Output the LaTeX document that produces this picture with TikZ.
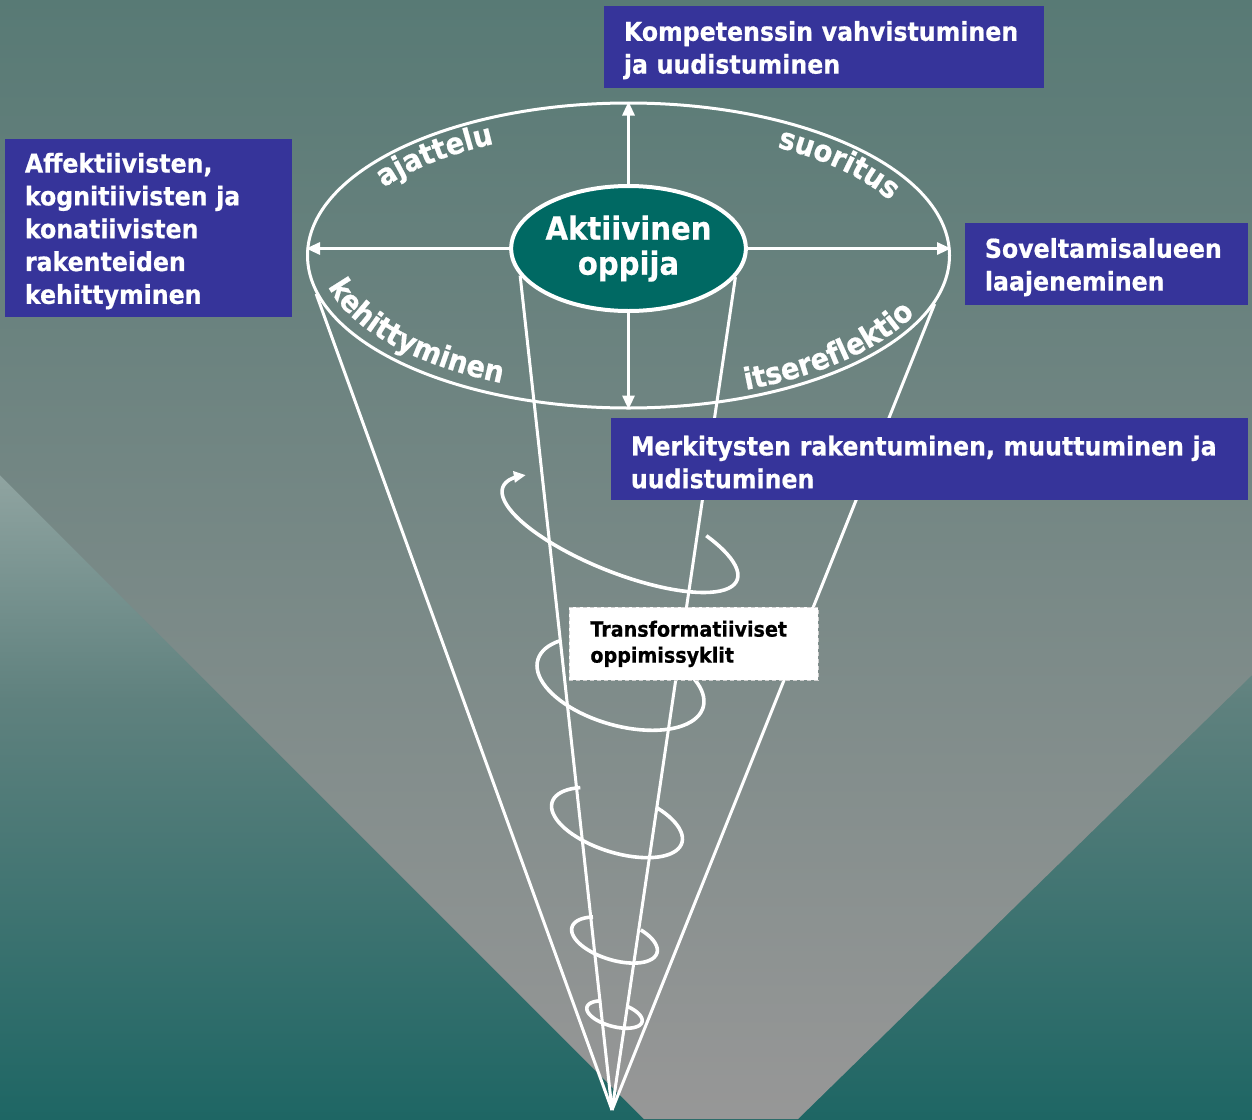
\documentclass[tikz,border=0pt]{standalone}
\usepackage{fontspec}
\setmainfont{DejaVu Sans}[FakeStretch=0.91, BoldFeatures={FakeBold=0.6}]
\usetikzlibrary{shapes.geometric, arrows.meta, decorations.text}

\definecolor{slideblue}{HTML}{36349A}
\definecolor{learnerteal}{HTML}{006963}
\definecolor{wedgetop}{HTML}{587A75}
\definecolor{wedgemid}{HTML}{868D8C}
\definecolor{wedgebottom}{HTML}{979797}
\definecolor{bgtop}{HTML}{97A9A6}
\definecolor{bgmid}{HTML}{5F817E}
\definecolor{bgbottom}{HTML}{1E6664}

\newcommand{\boxfont}{\bfseries\fontsize{13pt}{16.4pt}\selectfont}
\newcommand{\learnerfont}{\bfseries\fontsize{16pt}{17.5pt}\selectfont}
\newcommand{\rimfont}{\bfseries\fontsize{15pt}{15pt}\selectfont}
\newcommand{\cyclefont}{\bfseries\fontsize{10.5pt}{13pt}\selectfont}
% centre x, centre y, half axes, tilt, from angle, to angle
\newcommand{\ellarc}[7]{plot[variable=\t, domain=#6:#7, samples=60]
  ({#1+#3*cos(\t)*cos(#5)-#4*sin(\t)*sin(#5)}, {#2+#3*cos(\t)*sin(#5)+#4*sin(\t)*cos(#5)})}

\begin{document}
\begin{tikzpicture}[x=0.5pt, y=-0.5pt,
    bluebox/.style={rectangle, fill=slideblue, text=white, anchor=north west,
        inner xsep=9.75pt, inner ysep=0pt, align=left, font=\boxfont,
        execute at begin node={\rule{0pt}{12.6pt}}},
    cyclebox/.style={rectangle, fill=white, draw=black!18, dash pattern=on 2pt off 1.5pt,
        anchor=north west, inner xsep=10.5pt, inner ysep=0pt, align=left, font=\cyclefont},
    spoke/.style={white, line width=1.5pt, -{Triangle[length=7pt, width=6pt]}},
    coneline/.style={white, line width=1.5pt},
    cycleloop/.style={white, line width=1.8pt, line join=round},
    rimtext/.style={decorate, decoration={text along path, text align=center, text color=white}}]

    \useasboundingbox (0,0) rectangle (1252,1119);
    \shade[top color=bgtop, bottom color=bgmid] (0,440) rectangle (1252,700);
    \shade[top color=bgmid, bottom color=bgbottom] (0,700) rectangle (1252,1119);
    \shade[top color=wedgetop, middle color=wedgemid, bottom color=wedgebottom]
        (0,0) -- (1252,0) -- (1252,675) -- (798,1119) -- (644,1119) -- (0,475) -- cycle;

    \coordinate (tip) at (612,1110);
    \node[ellipse, draw=white, line width=1.5pt, minimum width=321pt, minimum height=152.5pt, inner sep=0pt] (rim) at (628.5,255.5) {};
    \node[ellipse, draw=white, line width=2pt, fill=learnerteal, minimum width=113pt, minimum height=62.5pt,
        inner sep=0pt, text=white, font=\learnerfont, align=center] (learner) at (628.5,248.5) {Aktiivinen\\oppija};

    \draw[coneline] (rim.187.8) -- (tip);
    \draw[coneline] (rim.351.3) -- (tip);
    \draw[coneline] (learner.194.8) -- (tip);
    \draw[coneline] (learner.345.8) -- (tip);

    \draw[spoke] (learner.north) -- (rim.north);
    \draw[spoke] (learner.south) -- (rim.south);
    \draw[spoke] (learner.west) -- (learner.west -| rim.west);
    \draw[spoke] (learner.east) -- (learner.east -| rim.east);

    \path[rimtext, decoration={text={|\rimfont|ajattelu}}]
        ([shift={(193:290 and 126)}]rim.center) arc[start angle=193, end angle=254, x radius=290, y radius=126];
    \path[rimtext, decoration={text={|\rimfont|suoritus}}]
        ([shift={(291:290 and 126)}]rim.center) arc[start angle=291, end angle=352, x radius=290, y radius=126];
    \path[rimtext, decoration={text={|\rimfont|kehittyminen}}]
        ([shift={(178:308 and 140)}]rim.center) arc[start angle=178, end angle=109, x radius=308, y radius=140];
    \path[rimtext, decoration={text={|\rimfont|itsereflektio}}]
        ([shift={(73:313 and 145)}]rim.center) arc[start angle=73, end angle=15, x radius=313, y radius=145];

    \draw[cycleloop, -{Triangle[length=6pt, width=5.5pt]}] \ellarc{620}{533.5}{126}{39}{21.7}{-50}{210};
    \draw[cycleloop] \ellarc{620.5}{683.5}{86}{42}{16}{-40}{215};
    \draw[cycleloop] \ellarc{617}{822.5}{68}{30}{17.5}{-60}{228};
    \draw[cycleloop] \ellarc{614.5}{940}{44.4}{20}{17}{-60}{232};
    \draw[cycleloop] \ellarc{614.5}{1014.5}{28.5}{12}{15}{-70}{235};

    \node[cyclebox, text width=103.5pt, minimum height=36.5pt] (cycles) at (569,607) {Transformatiiviset\\oppimissyklit};

    \node[bluebox, text width=200.5pt, minimum height=41pt] (competence) at (604,6) {Kompetenssin vahvistuminen\\ja uudistuminen};
    \node[bluebox, text width=124pt, minimum height=89pt] (structures) at (5,139) {Affektiivisten,\\kognitiivisten ja\\konatiivisten\\rakenteiden\\kehittyminen};
    \node[bluebox, text width=122pt, minimum height=41pt] (domain) at (965,223) {Soveltamisalueen\\laajeneminen};
    \node[bluebox, text width=299pt, minimum height=41pt] (meanings) at (611,418) {Merkitysten rakentuminen, muuttuminen ja\\uudistuminen};
\end{tikzpicture}
\end{document}
